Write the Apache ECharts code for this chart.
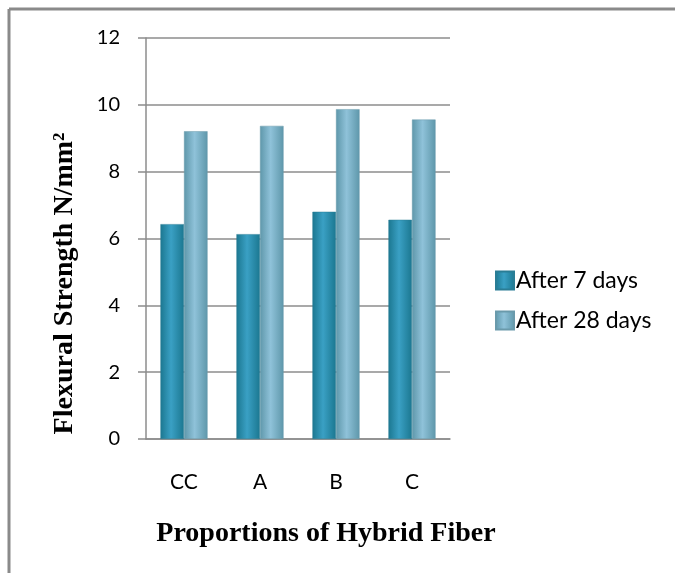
<!DOCTYPE html>
<html><head><meta charset="utf-8">
<script src="https://cdn.jsdelivr.net/npm/echarts@6/dist/echarts.min.js"></script>
<style>html,body{margin:0;padding:0;background:#fff}#c{width:675px;height:573px}</style>
</head><body><div id="c"></div>
<script>
const categories = ['CC', 'A', 'B', 'C'];
const after7 = [6.43, 6.13, 6.80, 6.56];
const after28 = [9.21, 9.37, 9.87, 9.56];
const seriesNames = ['After 7 days', 'After 28 days'];

function grad(edge, mid) {
  return new echarts.graphic.LinearGradient(0, 0, 1, 0, [
    {offset: 0, color: edge}, {offset: 0.45, color: mid}, {offset: 1, color: edge}
  ]);
}
const chart = echarts.init(document.getElementById('c'));
chart.setOption({
  animation: false,
  textStyle: {fontFamily: 'Lato'},
  graphic: [
    {type: 'line', shape: {x1: 9, y1: 9, x2: 675, y2: 9}, style: {stroke: '#8a8a8a', lineWidth: 3}},
    {type: 'line', shape: {x1: 9, y1: 9, x2: 9, y2: 573}, style: {stroke: '#8a8a8a', lineWidth: 3}}
  ],
  grid: {left: 146, right: 225, top: 38, bottom: 134},
  legend: {
    orient: 'vertical', left: 490, top: 264, itemGap: 17, itemWidth: 18, itemHeight: 18,
    icon: 'rect',
    textStyle: {fontFamily: 'Lato', fontSize: 23, lineHeight: 18, color: '#000', padding: [0, 0, 0, -3]},
    data: seriesNames
  },
  xAxis: {
    type: 'category', data: categories,
    axisLine: {lineStyle: {color: '#8c8c8c', width: 1.5}},
    axisTick: {show: false},
    axisLabel: {color: '#000', fontSize: 21, margin: 33, fontFamily: 'Lato'},
    name: 'Proportions of Hybrid Fiber', nameLocation: 'center', nameGap: 81,
    nameTextStyle: {fontFamily: 'Liberation Serif', fontWeight: 'bold', fontSize: 28, color: '#000', padding: [0, 0, 0, 56]}
  },
  yAxis: {
    type: 'value', min: 0, max: 12, interval: 2,
    axisLine: {show: true, lineStyle: {color: '#8c8c8c', width: 1.5}},
    axisTick: {show: true, length: 8, lineStyle: {color: '#8c8c8c', width: 1.5}},
    splitLine: {lineStyle: {color: '#8c8c8c', width: 1.5}},
    axisLabel: {color: '#000', fontSize: 20, margin: 26, fontFamily: 'Lato'},
    name: 'Flexural Strength N/mm²', nameLocation: 'center', nameGap: 67,
    nameTextStyle: {fontFamily: 'Liberation Serif', fontWeight: 'bold', fontSize: 28, color: '#000', padding: [0, 0, 0, -90]}
  },
  series: [
    {name: seriesNames[0], type: 'bar', data: after7, barGap: '0%', barCategoryGap: '38%',
     itemStyle: {color: grad('#1b7790', '#3aa0c4'), borderColor: '#2a7d95', borderWidth: 0.5}},
    {name: seriesNames[1], type: 'bar', data: after28,
     itemStyle: {color: grad('#5e97aa', '#8fc2d9'), borderColor: '#6a9aab', borderWidth: 0.5}}
  ]
});
</script></body></html>
